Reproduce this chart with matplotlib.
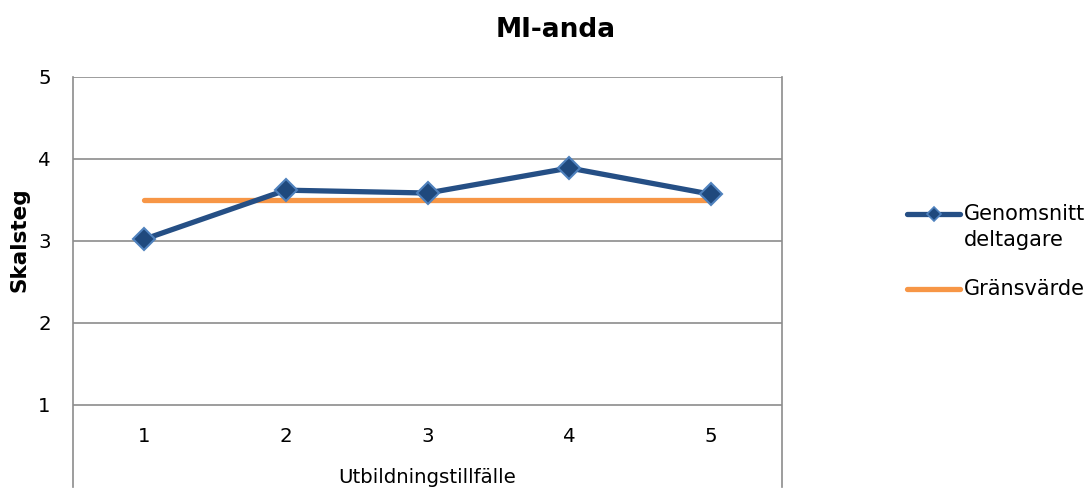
import matplotlib
matplotlib.use("Agg")
import matplotlib.pyplot as plt
from matplotlib.lines import Line2D

categories = [1, 2, 3, 4, 5]
genomsnitt = [3.02, 3.62, 3.585, 3.89, 3.57]
gransvarde = [3.5, 3.5, 3.5, 3.5, 3.5]
yticks = [1, 2, 3, 4, 5]

plt.rcParams['font.family'] = ['DejaVu Sans']

W, H = 1089, 488
fig = plt.figure(figsize=(W/100, H/100), dpi=100)
ax = fig.add_axes([73/W, 1/H, 709/W, 410/H])
ax.set_xlim(0.5, 5.5)
ax.set_ylim(0, 5)

grid_c = '#8c8c8c'
for y in yticks:
    ax.axhline(y, color=grid_c, lw=1.2, zorder=1)

for s in ['top', 'bottom']:
    ax.spines[s].set_visible(False)
for s in ['left', 'right']:
    ax.spines[s].set_color(grid_c)
    ax.spines[s].set_linewidth(1.2)

fs = 14.2
ax.set_xticks([])
ax.set_yticks(yticks)
ax.set_yticklabels([str(v) for v in yticks], fontsize=fs)
ax.tick_params(axis='y', length=0, pad=16)

for c in categories:
    ax.text(c, 0.61, str(c), ha='center', va='center', fontsize=fs)
ax.text(3, 0.12, 'Utbildningstillfälle', ha='center', va='center', fontsize=fs)

blue = '#254F85'
orange = '#F79646'
ax.plot(categories, gransvarde, color=orange, lw=3.8, solid_capstyle='round', zorder=3)
ax.plot(categories, genomsnitt, color=blue, lw=3.8, marker='D', markersize=11,
        markerfacecolor='#1F497D', markeredgecolor='#4F81BD', markeredgewidth=1.5,
        solid_capstyle='round', zorder=4)

fig.text(556/W, 1 - 30/H, 'MI-anda', ha='center', va='center', fontsize=19, fontweight='bold')
fig.text(20/W, 1 - 240/H, 'Skalsteg', ha='center', va='center', rotation=90,
         fontsize=15.5, fontweight='bold')

# legend (drawn manually to match layout)
lx0, lx1 = 907/W, 960/W
y1 = 1 - 214/H
y2 = 1 - 289/H
fig.add_artist(Line2D([lx0, lx1], [y1, y1], transform=fig.transFigure, color=blue, lw=3.8,
                      solid_capstyle='round'))
fig.add_artist(Line2D([(lx0 + lx1) / 2], [y1], transform=fig.transFigure, marker='D',
                      markersize=7, markerfacecolor='#1F497D', markeredgecolor='#4F81BD',
                      markeredgewidth=1.2, linestyle='none'))
fig.add_artist(Line2D([lx0, lx1], [y2, y2], transform=fig.transFigure, color=orange, lw=3.8,
                      solid_capstyle='round'))
fig.text(964/W, y1, 'Genomsnitt', ha='left', va='center', fontsize=15)
fig.text(964/W, 1 - 240/H, 'deltagare', ha='left', va='center', fontsize=15)
fig.text(964/W, y2, 'Gränsvärde', ha='left', va='center', fontsize=15)

fig.savefig('out.png', dpi=100)
